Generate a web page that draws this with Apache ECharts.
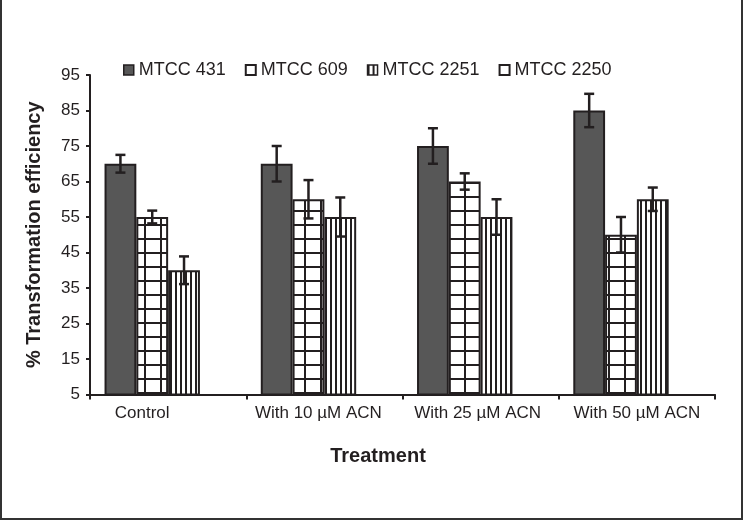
<!DOCTYPE html>
<html>
<head>
<meta charset="utf-8">
<script src="https://cdn.jsdelivr.net/npm/echarts@6/dist/echarts.min.js"></script>
<style>
html,body{margin:0;padding:0;background:#fff;}
#chart{width:743px;height:520px;}
</style>
</head>
<body>
<div id="chart"></div>
<script>
const categories = ['Control', 'With 10 µM ACN', 'With 25 µM ACN', 'With 50 µM ACN'];
const seriesNames = ['MTCC 431', 'MTCC 609', 'MTCC 2251', 'MTCC 2250'];
const mtcc431 = [70, 70, 75, 85];
const mtcc609 = [55, 60, 65, 50];
const mtcc2251 = [40, 55, 55, 60];
const mtcc2250 = [null, null, null, null];
const err431 = [2.5, 5, 5, 4.7];
const err609 = [1.8, 5.4, 2.3, 5];
const err2251 = [3.9, 5.5, 5, 3.3];
const yTicks = [5, 15, 25, 35, 45, 55, 65, 75, 85, 95];

const INK = '#231f20';
const FONT = '"Liberation Sans", Arial, sans-serif';
const CAT_GAP = 0.186;

function makeGrid() {
  const c = document.createElement('canvas');
  c.width = 16; c.height = 14;
  const g = c.getContext('2d');
  g.fillStyle = '#fff'; g.fillRect(0, 0, 16, 14);
  g.fillStyle = INK;
  g.fillRect(0, 0, 2, 14);
  g.fillRect(0, 0, 16, 2);
  return c;
}
function makeStripes() {
  const c = document.createElement('canvas');
  c.width = 5; c.height = 4;
  const g = c.getContext('2d');
  g.fillStyle = '#fff'; g.fillRect(0, 0, 5, 4);
  g.fillStyle = INK;
  g.fillRect(0, 0, 2, 4);
  return c;
}
const gridPattern = { image: makeGrid(), repeat: 'repeat' };
const stripePattern = { image: makeStripes(), repeat: 'repeat' };

function errSeries(vals, errs, idx) {
  return {
    type: 'custom',
    name: seriesNames[idx],
    z: 5,
    silent: true,
    legendHoverLink: false,
    encode: { x: 0, y: 1 },
    data: vals.map((v, i) => [i, v, errs[i]]),
    renderItem: function (params, api) {
      const ci = api.value(0), v = api.value(1), e = api.value(2);
      const bandW = api.size([1, 0])[0];
      const barW = bandW * (1 - CAT_GAP) / 4;
      const c = api.coord([ci, v]);
      const x = c[0] + (idx - 1.5) * barW;
      const yT = api.coord([ci, v + e])[1];
      const yB = api.coord([ci, v - e])[1];
      const st = { stroke: INK, lineWidth: 2.5 };
      const hw = 5;
      return {
        type: 'group',
        children: [
          { type: 'line', shape: { x1: x, y1: yT, x2: x, y2: yB }, style: st },
          { type: 'line', shape: { x1: x - hw, y1: yT, x2: x + hw, y2: yT }, style: st },
          { type: 'line', shape: { x1: x - hw, y1: yB, x2: x + hw, y2: yB }, style: st }
        ]
      };
    }
  };
}

const labelPads = [52, 12, 6, 0];

const chart = echarts.init(document.getElementById('chart'), null, { renderer: 'canvas' });
chart.setOption({
  animation: false,
  backgroundColor: '#fff',
  textStyle: { fontFamily: FONT, color: INK },
  grid: { left: 90, right: 28, top: 75, bottom: 125.5, containLabel: false },
  legend: {
    left: 118, top: 56,
    itemWidth: 10, itemHeight: 10, itemGap: 19,
    icon: 'rect',
    textStyle: { fontFamily: FONT, fontSize: 18, color: INK },
    data: [
      { name: seriesNames[0], itemStyle: { color: '#575757', borderColor: INK, borderWidth: 1.5 } },
      { name: seriesNames[1], itemStyle: { color: '#fff', borderColor: INK, borderWidth: 2 } },
      { name: seriesNames[2], itemStyle: { color: stripePattern, borderColor: INK, borderWidth: 1.5 } },
      { name: seriesNames[3], itemStyle: { color: '#fff', borderColor: INK, borderWidth: 2 } }
    ]
  },
  xAxis: {
    type: 'category',
    data: categories,
    boundaryGap: true,
    axisLine: { lineStyle: { color: INK, width: 2 } },
    axisTick: { show: true, interval: 0, length: 5, lineStyle: { color: INK, width: 2 } },
    axisLabel: {
      interval: 0,
      hideOverlap: false,
      margin: 10,
      fontFamily: FONT, fontSize: 17, color: INK,
      formatter: function (val, i) { return '{c' + i + '|' + val + '}'; },
      rich: {
        c0: { fontFamily: FONT, fontSize: 17, color: INK, padding: [0, labelPads[0], 0, 0] },
        c1: { fontFamily: FONT, fontSize: 17, color: INK, padding: [0, labelPads[1], 0, 0] },
        c2: { fontFamily: FONT, fontSize: 17, color: INK, padding: [0, labelPads[2], 0, 0] },
        c3: { fontFamily: FONT, fontSize: 17, color: INK, padding: [0, labelPads[3], 0, 0] }
      }
    },
    name: 'Treatment',
    nameLocation: 'middle',
    nameGap: 52,
    nameTextStyle: { fontFamily: FONT, fontSize: 20, fontWeight: 'bold', color: INK, padding: [0, 49, 0, 0] },
    splitLine: { show: false }
  },
  yAxis: {
    type: 'value',
    min: 5, max: 95,
    axisLine: { show: true, lineStyle: { color: INK, width: 2 } },
    axisTick: { show: true, length: 4, lineStyle: { color: INK, width: 2 }, customValues: yTicks },
    axisLabel: { margin: 10, fontFamily: FONT, fontSize: 17, color: INK, customValues: yTicks },
    splitLine: { show: false },
    name: '% Transformation efficiency',
    nameLocation: 'middle',
    nameGap: 46,
    nameTextStyle: { fontFamily: FONT, fontSize: 20, fontWeight: 'bold', color: INK }
  },
  series: [
    {
      type: 'bar', name: seriesNames[0], data: mtcc431,
      barGap: '0%', barCategoryGap: (CAT_GAP * 100) + '%',
      itemStyle: { color: '#575757', borderColor: INK, borderWidth: 2 }
    },
    {
      type: 'bar', name: seriesNames[1], data: mtcc609,
      itemStyle: { color: gridPattern, borderColor: INK, borderWidth: 2 }
    },
    {
      type: 'bar', name: seriesNames[2], data: mtcc2251,
      itemStyle: { color: stripePattern, borderColor: INK, borderWidth: 2 }
    },
    {
      type: 'bar', name: seriesNames[3], data: mtcc2250,
      itemStyle: { color: '#fff', borderColor: INK, borderWidth: 2 }
    },
    errSeries(mtcc431, err431, 0),
    errSeries(mtcc609, err609, 1),
    errSeries(mtcc2251, err2251, 2)
  ],
  graphic: [
    {
      type: 'polyline', silent: true, z: 100,
      shape: { points: [[1, 0], [1, 519], [742, 519], [742, 0]] },
      style: { stroke: '#333', lineWidth: 2, fill: null }
    }
  ]
});
</script>
</body>
</html>
